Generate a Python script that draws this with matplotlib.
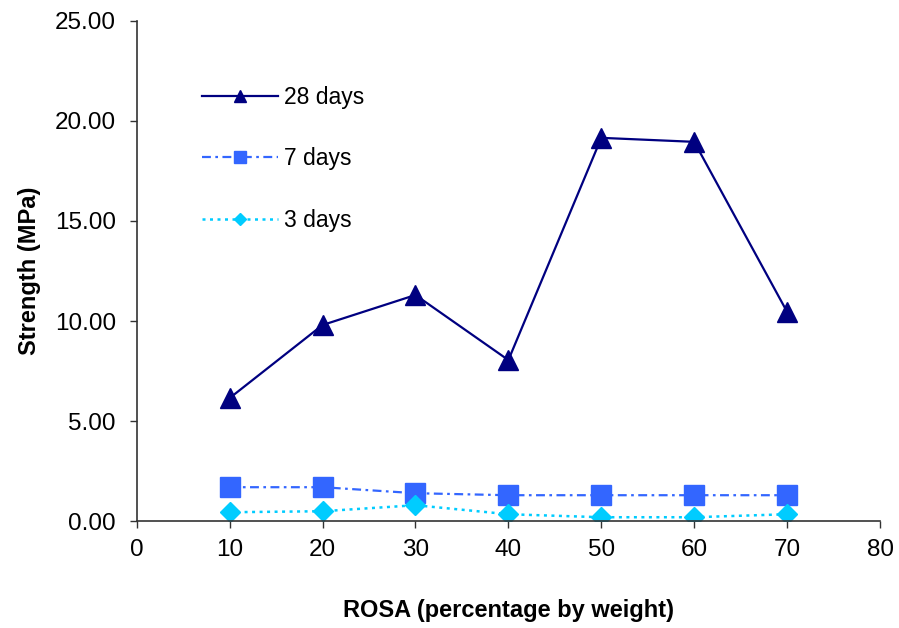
import matplotlib
matplotlib.use('Agg')
import matplotlib.pyplot as plt
from matplotlib.ticker import FormatStrFormatter, MultipleLocator

plt.rcParams['font.family'] = ['Liberation Sans', 'DejaVu Sans']

# ROSA content (% by weight) and compressive strength (MPa)
rosa = [10, 20, 30, 40, 50, 60, 70]
days28 = [6.15, 9.8, 11.3, 8.05, 19.15, 18.95, 10.45]
days7 = [1.7, 1.7, 1.4, 1.3, 1.3, 1.3, 1.3]
days3 = [0.45, 0.5, 0.8, 0.35, 0.2, 0.2, 0.35]

fig = plt.figure(figsize=(8.99, 6.28), dpi=100)
ax = fig.add_axes([0.152, 0.170, 0.827, 0.797])

ax.plot(rosa, days28, '-', color='#000080', lw=1.6, marker='^', ms=15,
        label='28 days')
ax.plot(rosa, days7, color='#3366FF', lw=1.6, ls=(0, (4, 2, 1.2, 2)),
        marker='s', ms=14, label='7 days')
ax.plot(rosa, days3, color='#00CCFF', lw=1.8, ls=(0, (1.2, 1.8)),
        marker='D', ms=10, label='3 days')

ax.set_xlim(0, 80)
ax.set_ylim(0, 25)
ax.xaxis.set_major_locator(MultipleLocator(10))
ax.yaxis.set_major_locator(MultipleLocator(5))
ax.yaxis.set_major_formatter(FormatStrFormatter('%.2f'))

for s in ['top', 'right']:
    ax.spines[s].set_visible(False)
for s in ['left', 'bottom']:
    ax.spines[s].set_color('#333333')
    ax.spines[s].set_linewidth(1.2)
ax.tick_params(direction='out', length=5, width=1.0, colors='#333333',
               labelcolor='black', labelsize=17.5)
ax.tick_params(axis='y', pad=10)
ax.tick_params(axis='x', pad=8)

ax.set_xlabel('ROSA (percentage by weight)', fontsize=17, fontweight='bold',
              labelpad=27)
ax.set_ylabel('Strength (MPa)', fontsize=17, fontweight='bold', labelpad=10)

leg = ax.legend(loc='upper left', bbox_to_anchor=(0.076, 0.888), frameon=False,
                fontsize=16.5, handlelength=3.3, labelspacing=1.68,
                handletextpad=0.25, borderaxespad=0, markerscale=0.6)

plt.savefig('out.png', dpi=100)
